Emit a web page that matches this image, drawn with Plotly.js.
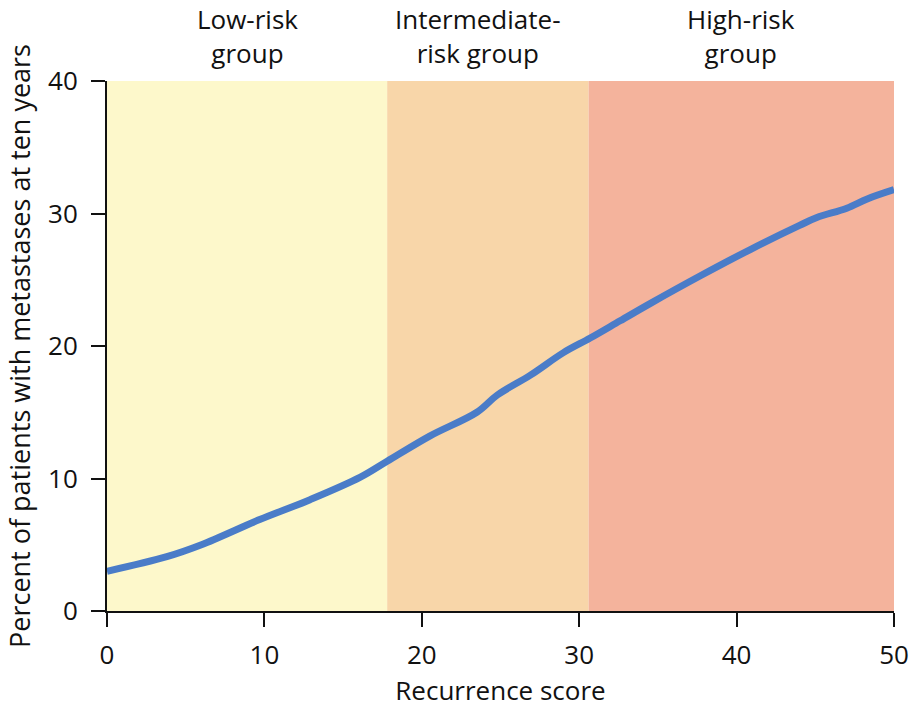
<!DOCTYPE html>
<html>
<head>
<meta charset="utf-8">
<script src="https://cdn.plot.ly/plotly-3.0.1.min.js"></script>
<style>html,body{margin:0;padding:0;background:#fff;}#chart{width:913px;height:716px;}</style>
</head>
<body>
<div id="chart"></div>
<script>
const scores = [0, 3.8, 6.0, 9.7, 12.9, 16.1, 17.8, 20.5, 23.5, 24.8, 26.9, 29.0, 30.7, 32.6, 34.5, 37.7, 40.9, 44.0, 45.1, 47.0, 48.3, 50];
const percents = [3.0, 4.1, 5.0, 6.9, 8.4, 10.1, 11.3, 13.2, 15.0, 16.3, 17.8, 19.5, 20.6, 21.9, 23.2, 25.3, 27.3, 29.1, 29.7, 30.4, 31.1, 31.8];
const groupNames = ["Low-risk<br>group", "Intermediate-<br>risk group", "High-risk<br>group"];
const groupStarts = [0, 17.8, 30.6];
const groupEnds = [17.8, 30.6, 50];
const groupLabelX = [8.9, 23.6, 40.3];
const groupColors = ["#fdf8cb", "#f8d6a9", "#f4b39c"];

const FONT = "Open Sans, Lato, sans-serif";
const shapes = groupStarts.map((s, i) => ({
  type: "rect", xref: "x", yref: "y", x0: s, x1: groupEnds[i], y0: 0, y1: 40,
  fillcolor: groupColors[i], line: {width: 0}, layer: "below"
}));
const annotations = groupNames.map((t, i) => ({
  text: t, x: groupLabelX[i], xref: "x", y: 1, yref: "paper", yshift: 8,
  xanchor: "center", yanchor: "bottom", showarrow: false,
  font: {family: FONT, size: 26, color: "#111"}
}));

Plotly.newPlot("chart", [{
  x: scores, y: percents, type: "scatter", mode: "lines",
  line: {color: "#4a7cc8", width: 7, shape: "spline", smoothing: 1},
  hoverinfo: "skip"
}], {
  width: 913, height: 716,
  margin: {l: 107, r: 19, t: 81, b: 105},
  paper_bgcolor: "#fff", plot_bgcolor: "#fff",
  showlegend: false,
  shapes: shapes, annotations: annotations,
  xaxis: {
    range: [0, 50], tickvals: [0, 10, 20, 30, 40, 50],
    showgrid: false, zeroline: false, showline: true, linecolor: "#111", linewidth: 2,
    ticks: "outside", ticklen: 14, tickwidth: 2, tickcolor: "#111",
    ticklabelstandoff: 6,
    tickfont: {family: FONT, size: 26, color: "#111"},
    title: {text: "Recurrence score", font: {family: FONT, size: 26, color: "#111"}, standoff: 8}
  },
  yaxis: {
    range: [0, 40], tickvals: [0, 10, 20, 30, 40],
    showgrid: false, zeroline: false, showline: true, linecolor: "#111", linewidth: 2,
    ticks: "outside", ticklen: 14, tickwidth: 2, tickcolor: "#111",
    ticklabelstandoff: 8,
    tickfont: {family: FONT, size: 26, color: "#111"},
    title: {text: "Percent of patients with metastases at ten years", font: {family: FONT, size: 27, color: "#111"}, standoff: 10}
  }
}, {displayModeBar: false, staticPlot: true});
</script>
</body>
</html>
